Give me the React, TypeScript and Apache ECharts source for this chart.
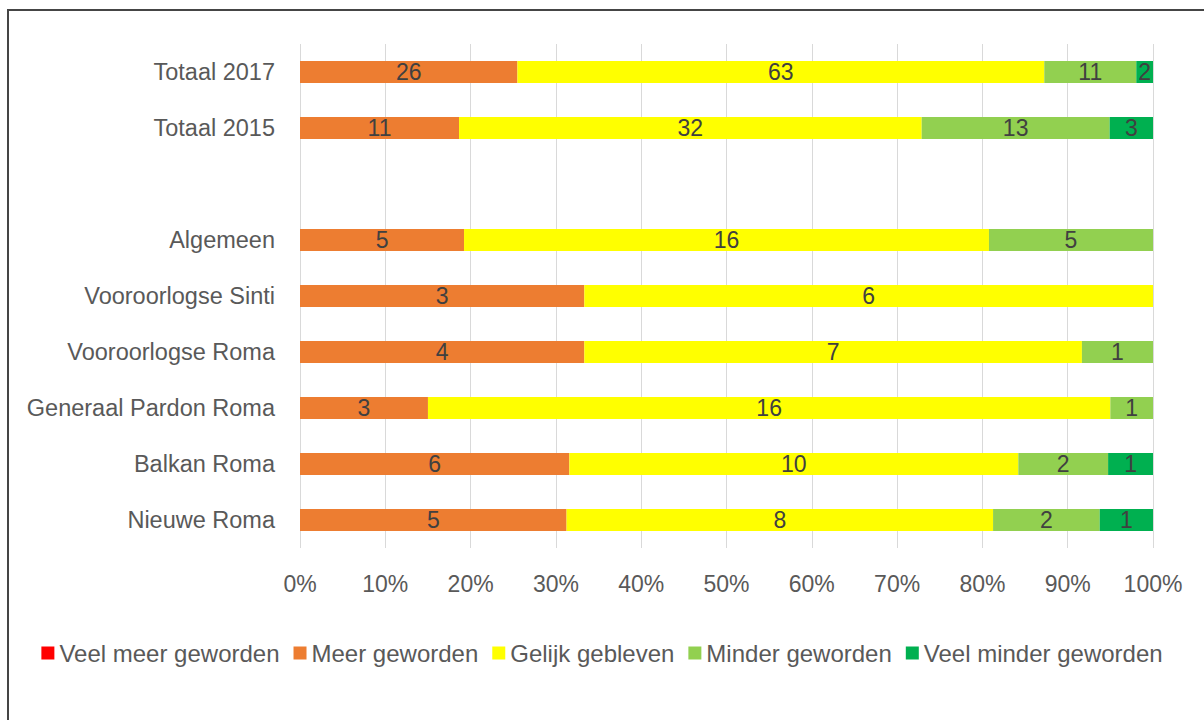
import React, { useEffect, useRef } from "react";
import * as echarts from "echarts";

const categories = [
  "Totaal 2017",
  "Totaal 2015",
  "",
  "Algemeen",
  "Vooroorlogse Sinti",
  "Vooroorlogse Roma",
  "Generaal Pardon Roma",
  "Balkan Roma",
  "Nieuwe Roma",
];

const seriesNames = [
  "Veel meer geworden",
  "Meer geworden",
  "Gelijk gebleven",
  "Minder geworden",
  "Veel minder geworden",
];

const veelMeer = [0, 0, 0, 0, 0, 0, 0, 0, 0];
const meer = [26, 11, 0, 5, 3, 4, 3, 6, 5];
const gelijk = [63, 32, 0, 16, 6, 7, 16, 10, 8];
const minder = [11, 13, 0, 5, 0, 1, 1, 2, 2];
const veelMinder = [2, 3, 0, 0, 0, 0, 0, 1, 1];

const colors = ["#FF0000", "#ED7D31", "#FFFF00", "#92D050", "#00B050"];

const FONT = "'Liberation Sans', 'DejaVu Sans', sans-serif";

export default function App() {
  const ref = useRef<HTMLDivElement>(null);

  useEffect(() => {
    if (!ref.current) return;
    const chart = echarts.init(ref.current, null, { renderer: "svg" });
    const raw = [veelMeer, meer, gelijk, minder, veelMinder];
    const totals = categories.map((_, i) =>
      raw.reduce((s, arr) => s + arr[i], 0)
    );
    const series = raw.map((arr, k) => ({
      name: seriesNames[k],
      type: "bar",
      stack: "total",
      barWidth: 22,
      itemStyle: { color: colors[k] },
      label: {
        show: true,
        position: "inside",
        color: "#404040",
        fontSize: 23,
        fontFamily: FONT,
        formatter: (p: any) => {
          const v = arr[p.dataIndex];
          return v ? String(v) : "";
        },
      },
      data: arr.map((v, i) => (totals[i] ? (v / totals[i]) * 100 : 0)),
    }));

    chart.setOption({
      animation: false,
      backgroundColor: "#ffffff",
      graphic: [
        {
          type: "rect",
          shape: { x: 8, y: 10, width: 1400, height: 900 },
          style: { fill: "none", stroke: "#454545", lineWidth: 2 },
          silent: true,
        },
      ],
      grid: { left: 300, right: 51, top: 44, bottom: 172 },
      legend: {
        bottom: 50,
        left: "center",
        icon: "rect",
        itemWidth: 13,
        itemHeight: 13,
        itemGap: 14,
        textStyle: { color: "#595959", fontSize: 24, fontFamily: FONT },
        data: seriesNames,
      },
      xAxis: {
        type: "value",
        min: 0,
        max: 100,
        interval: 10,
        axisLabel: {
          formatter: "{value}%",
          color: "#595959",
          fontSize: 23,
          fontFamily: FONT,
          margin: 24,
        },
        axisLine: { show: false },
        axisTick: { show: false },
        splitLine: { show: true, lineStyle: { color: "#d9d9d9", width: 1 } },
      },
      yAxis: {
        type: "category",
        inverse: true,
        data: categories,
        axisLabel: {
          color: "#595959",
          fontSize: 23.5,
          fontFamily: FONT,
          margin: 25,
        },
        axisLine: { show: false },
        axisTick: { show: false },
        splitLine: { show: false },
      },
      series,
    });
    return () => chart.dispose();
  }, []);

  return (
    <div
      ref={ref}
      style={{ position: "absolute", left: 0, top: 0, width: 1204, height: 720 }}
    />
  );
}
